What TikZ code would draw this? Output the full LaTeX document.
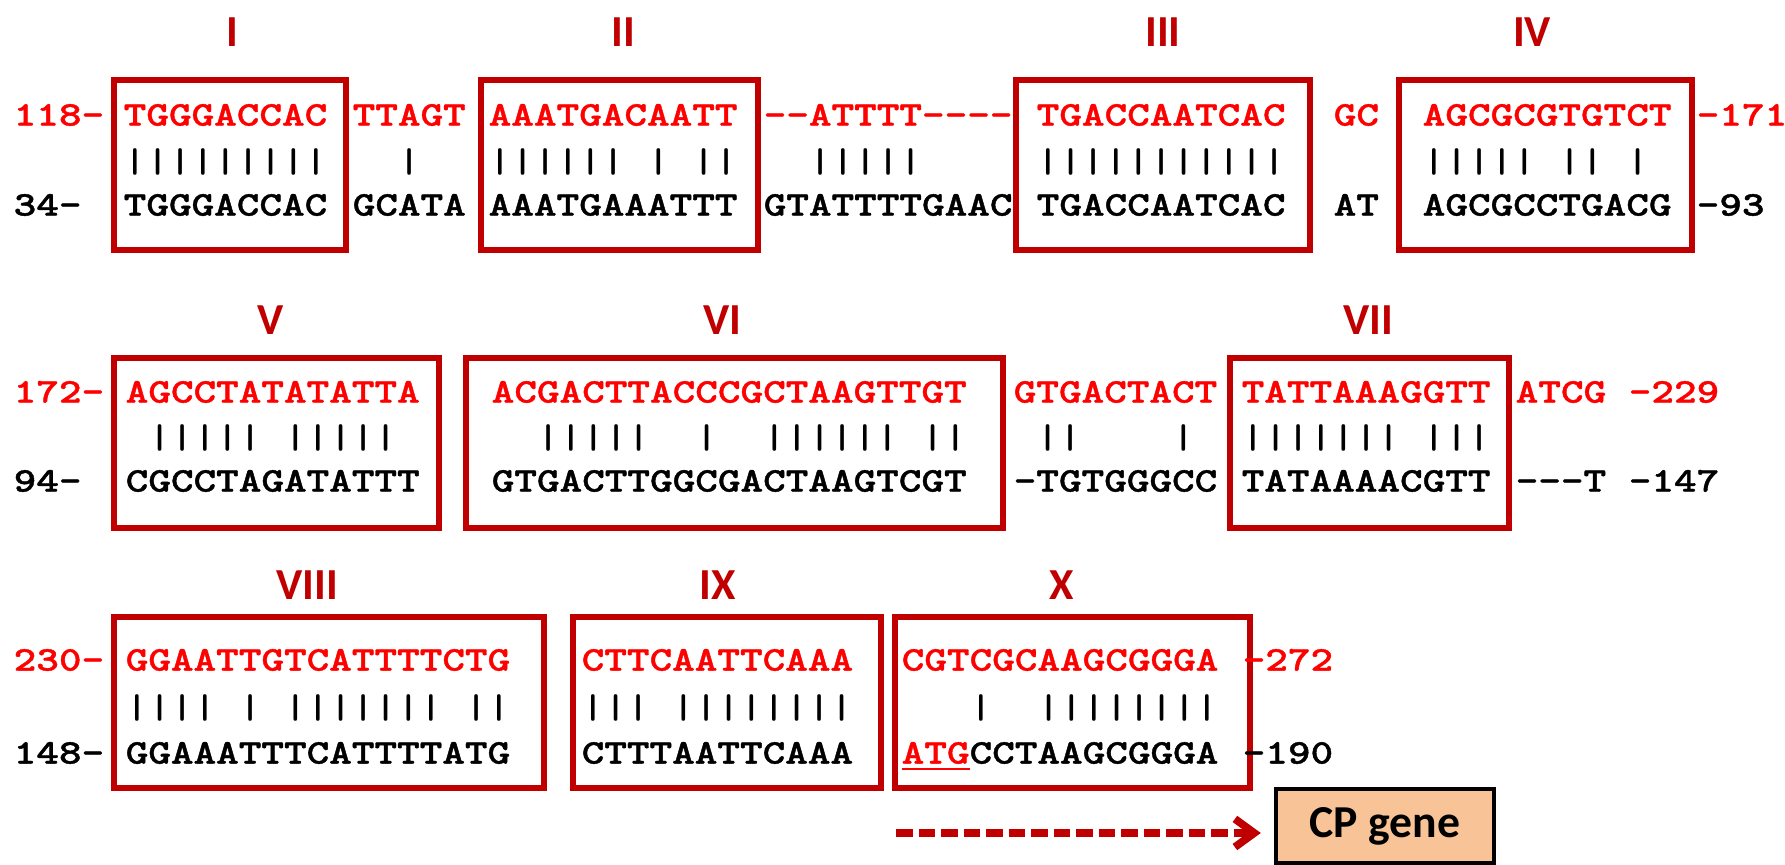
\documentclass[tikz,border=0pt]{standalone}
\usepackage{fontspec}
\usepackage{tikz}
\usepackage{xcolor}
\usetikzlibrary{arrows.meta}
\newfontfamily\seqfont{lmmonolt10-bold.otf}[FakeStretch=1.25,FakeBold=1.2,Ligatures=TeXOff]
\newfontfamily\barfont{lmmonolt10-bold.otf}[FakeStretch=1.25,Ligatures=TeXOff]
\newfontfamily\numfont{Carlito}
\definecolor{seqred}{HTML}{FF0000}
\definecolor{boxred}{HTML}{C00000}
\definecolor{cporange}{HTML}{F8C497}
\newcommand{\gp}{\hphantom{A}}

\begin{document}
\begin{tikzpicture}[x=0.01cm, y=-0.01cm,
  seq/.style={font=\seqfont\fontsize{9.8}{10}\selectfont, inner sep=0pt, anchor=west, text height=6pt, text depth=0pt},
  redseq/.style={seq, text=seqred},
  blkseq/.style={seq, text=black},
  bars/.style={font=\barfont\fontsize{9.8}{10}\selectfont, inner sep=0pt, anchor=west},
  motif/.style={draw=boxred, line width=1.5pt},
  numeral/.style={font=\numfont\bfseries\fontsize{12.6}{13}\selectfont, text=boxred, inner sep=0pt},
  cpbox/.style={draw=black, line width=1.2pt, fill=cporange, minimum width=2.18cm, minimum height=0.74cm, font=\numfont\bfseries\fontsize{13}{14}\selectfont},
  cparrow/.style={draw=boxred, line width=2.2pt, dash pattern=on 4.8pt off 1.6pt, shorten >=0.13cm, -{Straight Barb[length=5.5pt,width=8pt]}}]
\useasboundingbox (0,0) rectangle (1785,865);

% row 1
\draw[motif] (114,80) rectangle (346,250);
\draw[motif] (481,80) rectangle (758,250);
\draw[motif] (1016,80) rectangle (1310,250);
\draw[motif] (1399,80) rectangle (1692,250);
\node[numeral] (nI) at (232,32) {I};
\node[numeral] (nII) at (623,32) {II};
\node[numeral] (nIII) at (1163,32) {III};
\node[numeral] (nIV) at (1532,32) {IV};

\node[redseq] (l118) at (13,115) {118-};
\node[blkseq] (l34) at (13,205) {34-};
\node[redseq] (r1a) at (123,115) {TGGGACCAC};
\node[bars] (b1a) at (123,162) {|||||||||};
\node[blkseq] (k1a) at (123,205) {TGGGACCAC};
\node[redseq] (r1b) at (352,115) {TTAGT};
\node[bars] (b1b) at (352,162) {\gp\gp|};
\node[blkseq] (k1b) at (352,205) {GCATA};
\node[redseq] (r1c) at (488,115) {AAATGACAATT};
\node[bars] (b1c) at (488,162) {||||||\gp|\gp||};
\node[blkseq] (k1c) at (488,205) {AAATGAAATTT};
\node[redseq] (r1d) at (763,115) {--ATTTT----};
\node[bars] (b1d) at (763,162) {\gp\gp|||||};
\node[blkseq] (k1d) at (763,205) {GTATTTTGAAC};
\node[redseq] (r1e) at (1036,115) {TGACCAATCAC};
\node[bars] (b1e) at (1036,162) {|||||||||||};
\node[blkseq] (k1e) at (1036,205) {TGACCAATCAC};
\node[redseq] (r1f) at (1333,115) {GC};
\node[blkseq] (k1f) at (1333,205) {AT};
\node[redseq] (r1g) at (1422,115) {AGCGCGTGTCT};
\node[bars] (b1g) at (1422,162) {|||||\gp||\gp|};
\node[blkseq] (k1g) at (1422,205) {AGCGCCTGACG};
\node[redseq] (r1h) at (1696,115) {-171};
\node[blkseq] (k1h) at (1696,205) {-93};

% row 2
\draw[motif] (114,358) rectangle (439,528);
\draw[motif] (466,358) rectangle (1003,528);
\draw[motif] (1230,358) rectangle (1509,528);
\node[numeral] (nV) at (271,320) {V};
\node[numeral] (nVI) at (722,320) {VI};
\node[numeral] (nVII) at (1368,320) {VII};

\node[redseq] (l172) at (13,392) {172-};
\node[blkseq] (l94) at (13,481) {94-};
\node[redseq] (r2a) at (125,392) {AGCCTATATATTA};
\node[bars] (b2a) at (125,438) {\gp|||||\gp|||||};
\node[blkseq] (k2a) at (125,481) {CGCCTAGATATTT};
\node[redseq] (r2b) at (491,392) {ACGACTTACCCGCTAAGTTGT};
\node[bars] (b2b) at (491,438) {\gp\gp|||||\gp\gp|\gp\gp||||||\gp||};
\node[blkseq] (k2b) at (491,481) {GTGACTTGGCGACTAAGTCGT};
\node[redseq] (r2c) at (1013,392) {GTGACTACT};
\node[bars] (b2c) at (1013,438) {\gp||\gp\gp\gp\gp|};
\node[blkseq] (k2c) at (1013,481) {-TGTGGGCC};
\node[redseq] (r2d) at (1241,392) {TATTAAAGGTT};
\node[bars] (b2d) at (1241,438) {|||||||\gp|||};
\node[blkseq] (k2d) at (1241,481) {TATAAAACGTT};
\node[redseq] (r2e) at (1515,392) {ATCG\gp-229};
\node[blkseq] (k2e) at (1515,481) {---T\gp-147};

% row 3
\draw[motif] (114,617) rectangle (544,788);
\draw[motif] (573,617) rectangle (881,788);
\draw[motif] (895,617) rectangle (1250,788);
\node[numeral] (nVIII) at (307,585) {VIII};
\node[numeral] (nIX) at (718,585) {IX};
\node[numeral] (nX) at (1062,585) {X};

\node[redseq] (l230) at (13,660) {230-};
\node[blkseq] (l148) at (13,753) {148-};
\node[redseq] (r3a) at (125,660) {GGAATTGTCATTTTCTG};
\node[bars] (b3a) at (125,708) {||||\gp|\gp|||||||\gp||};
\node[blkseq] (k3a) at (125,753) {GGAAATTTCATTTTATG};
\node[redseq] (r3b) at (581,660) {CTTCAATTCAAA};
\node[bars] (b3b) at (581,708) {|||\gp||||||||};
\node[blkseq] (k3b) at (581,753) {CTTTAATTCAAA};
\node[redseq] (r3c) at (901,660) {CGTCGCAAGCGGGA};
\node[bars] (b3c) at (901,708) {\gp\gp\gp|\gp\gp||||||||};
\node[blkseq] (k3c) at (901,753) {\textcolor{seqred}{\underline{ATG}}CCTAAGCGGGA};
\node[redseq] (r3d) at (1242,660) {-272};
\node[blkseq] (k3d) at (1242,753) {-190};

% CP gene
\node[cpbox] (cp) at (1385,826) {CP gene};
\coordinate (astart) at (896,833);
\draw[cparrow] (astart) -- (astart -| cp.west);
\end{tikzpicture}
\end{document}
